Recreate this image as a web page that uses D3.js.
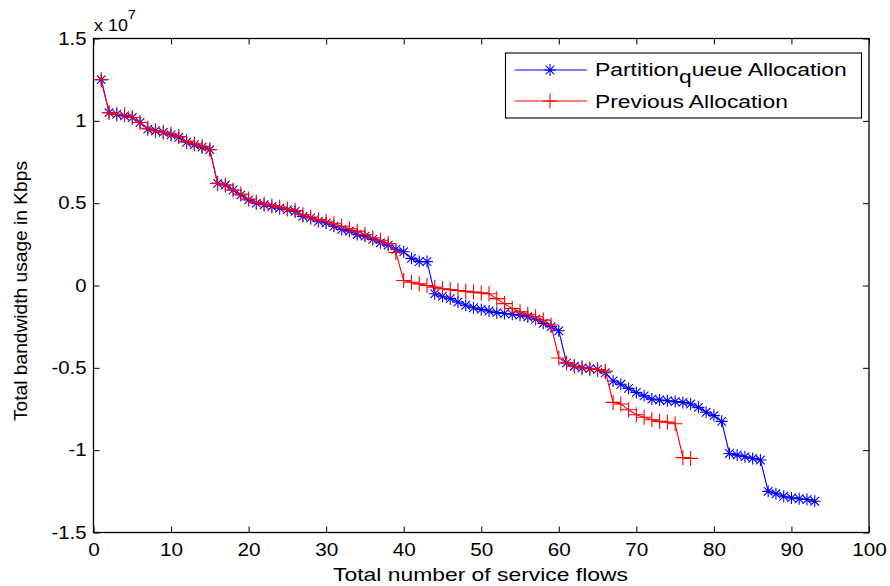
<!DOCTYPE html>
<html><head><meta charset="utf-8">
<script src="https://cdn.jsdelivr.net/npm/d3@7"></script>
<style>
html,body{margin:0;padding:0;background:#fff;}
svg text{font-family:"Liberation Sans",Arial,sans-serif;}
</style></head>
<body>
<svg id="chart" width="890" height="586"></svg>
<script>
// Data (y values in units of 1e7 Kbps)
const xTicks = [0,10,20,30,40,50,60,70,80,90,100];
const yTicks = [-1.5,-1,-0.5,0,0.5,1,1.5];
const yTickLabels = ["-1.5","-1","-0.5","0","0.5","1","1.5"];
const seriesNames = ["Partition", "Previous Allocation"];

const blueValues = [
 1.25,1.05,1.04,1.03,1.02,0.99,0.95,0.94,0.93,0.915,
 0.90,0.87,0.855,0.84,0.825,0.62,0.61,0.58,0.55,0.52,
 0.50,0.49,0.48,0.47,0.46,0.45,0.42,0.41,0.39,0.38,
 0.36,0.34,0.33,0.31,0.30,0.28,0.26,0.245,0.22,0.205,
 0.165,0.145,0.145,-0.05,-0.065,-0.08,-0.10,-0.12,-0.135,-0.145,
 -0.155,-0.165,-0.17,-0.175,-0.18,-0.19,-0.205,-0.23,-0.25,-0.275,
 -0.47,-0.49,-0.50,-0.505,-0.51,-0.53,-0.58,-0.60,-0.625,-0.65,
 -0.67,-0.69,-0.695,-0.70,-0.705,-0.71,-0.72,-0.74,-0.77,-0.79,
 -0.825,-1.02,-1.03,-1.04,-1.05,-1.06,-1.25,-1.265,-1.28,-1.29,
 -1.295,-1.30,-1.31
];
const redValues = [
 1.25,1.05,1.04,1.035,1.02,0.99,0.955,0.94,0.93,0.92,
 0.905,0.875,0.86,0.845,0.825,0.62,0.61,0.58,0.555,0.525,
 0.505,0.495,0.485,0.475,0.465,0.455,0.43,0.415,0.40,0.39,
 0.375,0.36,0.345,0.33,0.31,0.29,0.275,0.255,0.20,0.03,
 0.02,0.01,0.0,-0.01,-0.02,-0.025,-0.03,-0.035,-0.04,-0.045,
 -0.05,-0.08,-0.11,-0.14,-0.16,-0.175,-0.19,-0.21,-0.24,-0.44,
 -0.47,-0.49,-0.50,-0.505,-0.51,-0.52,-0.71,-0.72,-0.755,-0.785,
 -0.80,-0.815,-0.825,-0.83,-0.84,-1.045,-1.05
];

const svg = d3.select("#chart");
const L = 93.5, R = 869, T = 38.5, B = 532.5;
const x = d3.scaleLinear().domain([0,100]).range([L,R]);
const y = d3.scaleLinear().domain([-1.5,1.5]).range([B,T]);

const blue = blueValues.map((v,i)=>({x:i+1,y:v}));
const red = redValues.map((v,i)=>({x:i+1,y:v}));

function stretch(sel, k){
  sel.each(function(){
    const w = this.getComputedTextLength();
    d3.select(this).attr("textLength", w*k).attr("lengthAdjust","spacingAndGlyphs");
  });
}

// Axes with inward ticks
const tl = 6;
const gB = svg.append("g").attr("transform",`translate(0,${B})`)
  .call(d3.axisBottom(x).tickValues(xTicks).tickSize(-tl).tickPadding(11).tickFormat(d3.format("d")));
const gT = svg.append("g").attr("transform",`translate(0,${T})`)
  .call(d3.axisTop(x).tickValues(xTicks).tickSize(-tl).tickFormat(""));
const gL = svg.append("g").attr("transform",`translate(${L},0)`)
  .call(d3.axisLeft(y).tickValues(yTicks).tickSize(-tl).tickPadding(7).tickFormat((d,i)=>yTickLabels[i]));
const gR = svg.append("g").attr("transform",`translate(${R},0)`)
  .call(d3.axisRight(y).tickValues(yTicks).tickSize(-tl).tickFormat(""));
[gB,gT,gL,gR].forEach(g=>{
  g.select(".domain").remove();
  g.selectAll(".tick line").attr("stroke","#000").attr("stroke-width",1);
  g.selectAll(".tick text").attr("fill","#000").attr("font-size",18)
   .attr("font-family","Liberation Sans, Arial, sans-serif");
});
stretch(gB.selectAll(".tick text"), 1.15);
stretch(gL.selectAll(".tick text"), 1.13);
svg.append("rect").attr("x",L).attr("y",T).attr("width",R-L).attr("height",B-T)
  .attr("fill","none").attr("stroke","#000").attr("stroke-width",1.3);

// exponent
const ex = svg.append("text").attr("transform","translate(94,31) scale(1.12,1)").attr("font-size",16).attr("fill","#000");
ex.append("tspan").text("x 10");
ex.append("tspan").attr("dy",-12).attr("font-size",13).text("7");

// Lines
const line = d3.line().x(d=>x(d.x)).y(d=>y(d.y));
function drawSeries(data, color, marker){
  svg.append("path").datum(data).attr("d",line).attr("fill","none")
    .attr("stroke",color).attr("stroke-width",1.1);
  const g = svg.append("g");
  data.forEach(d=>{
    const cx = x(d.x), cy = y(d.y);
    g.append("path").attr("d", marker(cx,cy)).attr("stroke",color)
      .attr("stroke-width",1.1).attr("fill","none");
  });
}
const star = (cx,cy)=>{const s=6,t=4.3;return `M${cx-s},${cy}H${cx+s}M${cx},${cy-s}V${cy+s}M${cx-t},${cy-t}L${cx+t},${cy+t}M${cx-t},${cy+t}L${cx+t},${cy-t}`;};
const plus = (cx,cy)=>{const s=7.5;return `M${cx-s},${cy}H${cx+s}M${cx},${cy-s}V${cy+s}`;};

drawSeries(blue,"#0000ff",star);
drawSeries(red,"#ff0000",plus);

// Legend
const lg = svg.append("g");
lg.append("rect").attr("x",505.5).attr("y",53).attr("width",356).attr("height",65)
  .attr("fill","#fff").attr("stroke","#000").attr("stroke-width",1.1);
lg.append("line").attr("x1",515).attr("x2",587).attr("y1",70).attr("y2",70).attr("stroke","#0000ff").attr("stroke-width",1.1);
lg.append("path").attr("d",star(550,70)).attr("stroke","#0000ff").attr("stroke-width",1.1);
lg.append("line").attr("x1",515).attr("x2",587).attr("y1",101).attr("y2",101).attr("stroke","#ff0000").attr("stroke-width",1.1);
lg.append("path").attr("d",plus(550,101)).attr("stroke","#ff0000").attr("stroke-width",1.1);
const t1 = lg.append("text").attr("font-size",18.5).attr("fill","#000");
t1.append("tspan").text(seriesNames[0]);
t1.append("tspan").attr("dy",7).text("q");
t1.append("tspan").attr("dy",-7).text("ueue Allocation");
const t2 = lg.append("text").attr("font-size",18.5).attr("fill","#000").text(seriesNames[1]);
function fitWidth(t, x0, base, target){
  const w = t.node().getBBox().width;
  t.attr("transform",`translate(${x0},${base}) scale(${target/w},1)`);
}
fitWidth(t1, 595, 76, 252);
fitWidth(t2, 595, 108, 193);

// Axis labels
const xl = svg.append("text").attr("text-anchor","middle").attr("font-size",18)
  .attr("fill","#000").text("Total number of service flows");
{ const w = xl.node().getComputedTextLength(); xl.attr("transform",`translate(480.5,581) scale(${295/w},1)`); }
const yl = svg.append("text").attr("transform",`translate(27,291) rotate(-90)`).attr("text-anchor","middle")
  .attr("font-size",18).attr("fill","#000").text("Total bandwidth usage in Kbps");
stretch(yl, 260/ (yl.node().getComputedTextLength()) );
</script>
</body></html>
